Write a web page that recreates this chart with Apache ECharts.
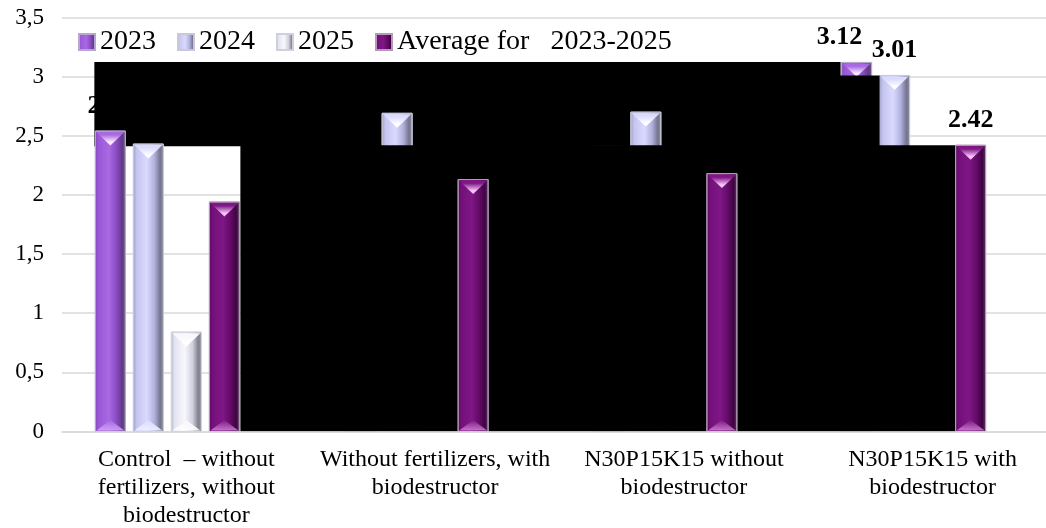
<!DOCTYPE html>
<html>
<head>
<meta charset="utf-8">
<script src="https://cdn.jsdelivr.net/npm/echarts@6/dist/echarts.min.js"></script>
<style>
  html, body { margin: 0; padding: 0; background: #ffffff; }
  #chart { width: 1046px; height: 528px; }
</style>
</head>
<body>
<div id="chart"></div>
<script>
// ---- data ----
const categories = [
  'Control  \u2013 without\nfertilizers, without\nbiodestructor',
  'Without fertilizers, with\nbiodestructor',
  'N30P15K15 without\nbiodestructor',
  'N30P15K15 with\nbiodestructor'
];
const seriesNames = ['2023', '2024', '2025', 'Average for   2023-2025'];
const values2023 = [2.54, 2.40, 2.41, 3.12];
const values2024 = [2.43, 2.69, 2.70, 3.01];
const values2025 = [0.84, 1.30, 1.43, 1.13];
const valuesAvg  = [1.94, 2.13, 2.18, 2.42];
const yTickLabels = ['0', '0,5', '1', '1,5', '2', '2,5', '3', '3,5'];
// category indices whose bars carry a value label
const labelled2023 = [0, 3];
const labelled2024 = [3];
const labelled2025 = [];
const labelledAvg  = [3];

// ---- layout constants ----
const FONT = '"Liberation Serif", "Times New Roman", serif';
const BAR = 0.1206;    // bar width as share of a category band
const PITCH = 0.1528;  // distance between neighbouring bar centres
// each group reserves room for five bars; slots 0..3 are used

const palettes = [
  { body: [[0, '#8446c0'], [0.12, '#9a58d6'], [0.45, '#a869e2'], [0.7, '#8a4cc4'], [0.88, '#5f3a86'], [1, '#6e5f86']],
    top: '#fbeaff', bottom: '#d2a6f4', edge: '#b9a6cc' },
  { body: [[0, '#9c9cc8'], [0.12, '#c4c4f0'], [0.45, '#dadaff'], [0.7, '#b0b0dc'], [0.88, '#75758f'], [1, '#8c8ca2']],
    top: '#ffffff', bottom: '#f2f2ff', edge: '#c8c8d8' },
  { body: [[0, '#b8b8c8'], [0.12, '#e4e4f0'], [0.45, '#f7f7fd'], [0.7, '#d0d0de'], [0.88, '#82828f'], [1, '#9494a2']],
    top: '#ffffff', bottom: '#ffffff', edge: '#d0d0dc' },
  { body: [[0, '#5a0a5c'], [0.12, '#73107a'], [0.45, '#7f1786'], [0.7, '#620b66'], [0.88, '#3e0442'], [1, '#5e4064']],
    top: '#f8c4f8', bottom: '#cc80d0', edge: '#b49ab8' }
];

function grad(stops, vertical) {
  return {
    type: 'linear', x: 0, y: 0, x2: vertical ? 0 : 1, y2: vertical ? 1 : 0,
    colorStops: stops.map(s => ({ offset: s[0], color: s[1] }))
  };
}

function makeRenderer(slot, pal, labelled, labelDx) {
  return function (params, api) {
    const i = api.value(0);
    const v = api.value(1);
    const base = api.coord([i, 0]);
    const tip = api.coord([i, v]);
    const band = api.size([1, 0])[0];
    const w = band * BAR;
    const cx = base[0] + (slot - 2) * PITCH * band;
    const x = cx - w / 2;
    const yt = tip[1];
    const yb = base[1];
    const bev = w * 0.48;
    const mid = pal.body[2][1];
    const children = [
      { type: 'rect', shape: { x: x, y: yt, width: w, height: yb - yt },
        style: { fill: grad(pal.body), stroke: pal.edge, lineWidth: 1 } },
      { type: 'polygon', shape: { points: [[x + 1, yt + 1], [x + w - 1, yt + 1], [cx, yt + bev]] },
        style: { fill: grad([[0, mid], [0.2, mid], [0.75, pal.top], [1, pal.top]], true) } },
      { type: 'polygon', shape: { points: [[x + 1, yb - 1], [x + w - 1, yb - 1], [cx, yb - bev * 0.8]] },
        style: { fill: grad([[0, mid], [1, pal.bottom]], true), opacity: 0.9 } }
    ];
    if (labelled.indexOf(i) >= 0) {
      children.push({
        type: 'text', x: cx + (labelDx[i] || 0), y: yt - 25,
        style: { text: v.toFixed(2), font: 'bold 26px ' + FONT, fill: '#000000',
                 align: 'center', verticalAlign: 'middle' }
      });
    }
    return { type: 'group', children: children };
  };
}

const seriesValues = [values2023, values2024, values2025, valuesAvg];
const seriesLabels = [labelled2023, labelled2024, labelled2025, labelledAvg];
const labelShift = [[0, 0, 0, -17], [], [], []];
const seriesZ = [3, 3, 3, 5];

const chart = echarts.init(document.getElementById('chart'), null, { renderer: 'canvas' });

const option = {
  animation: false,
  backgroundColor: '#ffffff',
  textStyle: { fontFamily: FONT },
  grid: { left: 62, width: 995, top: 17.5, bottom: 96.5, containLabel: false, outerBoundsMode: 'none' },
  legend: {
    data: seriesNames,
    left: 78, top: 27,
    padding: 0,
    icon: 'rect',
    itemWidth: 16, itemHeight: 16, itemGap: 21,
    selectedMode: false,
    textStyle: { fontFamily: FONT, fontSize: 28, color: '#000000', lineHeight: 30 }
  },
  xAxis: {
    type: 'category',
    data: categories,
    z: 6,
    axisTick: { show: false },
    axisLine: { show: true, lineStyle: { color: '#d9d9d9', width: 1.5 } },
    axisLabel: { interval: 0, margin: 14, fontFamily: FONT, fontSize: 24, lineHeight: 28,
                 color: '#000000', align: 'center' },
    splitLine: { show: false }
  },
  yAxis: {
    type: 'value',
    min: 0, max: 3.5, interval: 0.5,
    axisLine: { show: false },
    axisTick: { show: false },
    axisLabel: { margin: 18, fontFamily: FONT, fontSize: 23, color: '#000000',
                 formatter: (val, idx) => yTickLabels[idx] },
    splitLine: { lineStyle: { color: '#d9d9d9', width: 1.5 } }
  },
  series: seriesNames.map((name, s) => ({
    name: name,
    type: 'custom',
    z: seriesZ[s],
    clip: false,
    itemStyle: { color: grad(palettes[s].body), borderColor: palettes[s].edge, borderWidth: 1 },
    encode: { x: 0, y: 1 },
    data: seriesValues[s].map((v, i) => [i, v]),
    renderItem: makeRenderer(s, palettes[s], seriesLabels[s], labelShift[s])
  }))
};
chart.setOption(option);

// dark panels laid over the plot, positioned from the axis scales
(function () {
  const P = (i, v) => chart.convertToPixel({ gridIndex: 0 }, [i, v]);
  const band = P(1, 0)[0] - P(0, 0)[0];
  const left = (s, i) => P(i, 0)[0] + (s - 2) * PITCH * band - BAR * band / 2;
  const right = (s, i) => left(s, i) + BAR * band;
  const yv = v => P(0, v)[1];
  const last = categories.length - 1;
  const yTop = yv(values2023[last]) - 0.5;
  const yStep = yv(values2024[last]);
  const yBreak = yv(valuesAvg[last]);
  const yBase = yv(0);
  const xA = left(0, 0) - 1;
  const xB = left(0, last) - 1;
  const xC = left(1, last);
  const xD = right(3, 0) + 1;
  const xE = left(3, last);
  // panels overlap by a pixel so no seam shows where they meet
  chart.setOption({
    graphic: [
      { type: 'rect', z: 1, silent: true,
        shape: { x: xA, y: yTop, width: xB - xA, height: yBreak - yTop + 1 }, style: { fill: '#000000' } },
      { type: 'rect', z: 4, silent: true,
        shape: { x: xB - 1, y: yStep, width: xC - xB + 1, height: yBreak - yStep + 1 }, style: { fill: '#000000' } },
      { type: 'rect', z: 4, silent: true,
        shape: { x: xD, y: yBreak, width: xE - xD, height: yBase - yBreak }, style: { fill: '#000000' } }
    ]
  });
})();
</script>
</body>
</html>
